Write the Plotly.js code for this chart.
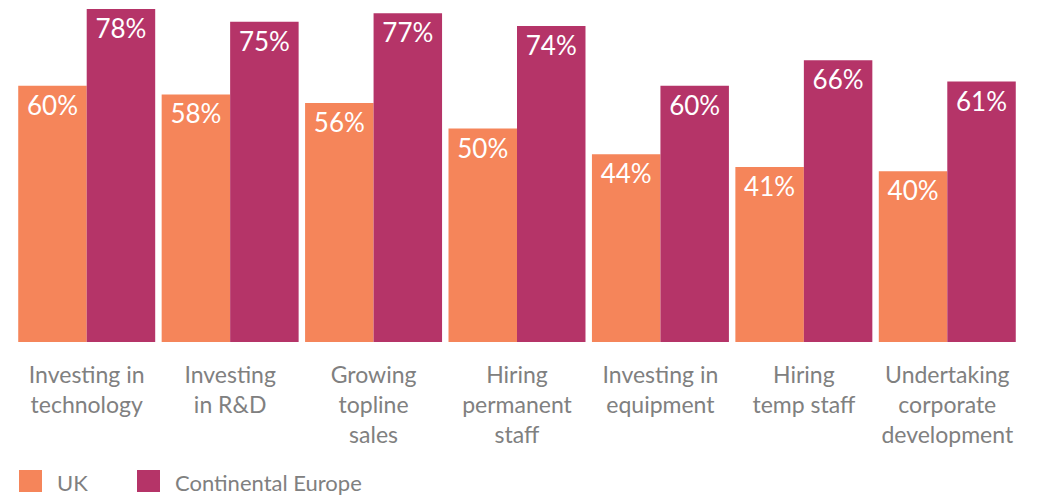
<!DOCTYPE html>
<html>
<head>
<meta charset="utf-8">
<script src="https://cdn.plot.ly/plotly-3.0.1.min.js"></script>
<style>
  html, body { margin: 0; padding: 0; background: #fff; }
  #chart { width: 1042px; height: 496px; }
</style>
</head>
<body>
<div id="chart"></div>
<script>
// categories (line breaks as in the picture)
const categories = [
  "Investing in<br>technology",
  "Investing<br>in R&D",
  "Growing<br>topline<br>sales",
  "Hiring<br>permanent<br>staff",
  "Investing in<br>equipment",
  "Hiring<br>temp staff",
  "Undertaking<br>corporate<br>development"
];
const seriesNames = ["UK", "Continental Europe"];
const ukValues = [60, 58, 56, 50, 44, 41, 40];
const europeValues = [78, 75, 77, 74, 60, 66, 61];

const colors = ["#F5855A", "#B53468"];
const greyText = "#808080";
const fontFam = "Lato, 'Open Sans', sans-serif";

// plot box in pixels
const W = 1042, H = 496;
const mL = 15, mR = 23, mT = 9, mB = 154;
const plotW = W - mL - mR, plotH = H - mT - mB;
function px(x) { return (x - mL) / plotW; }
function py(y) { return (H - mB - y) / plotH; }

function barTrace(name, values, color) {
  return {
    type: "bar",
    name: name,
    x: categories,
    y: values,
    text: values.map(v => v + "%"),
    textposition: "inside",
    insidetextanchor: "end",
    textfont: { color: "#ffffff", size: 26, family: fontFam },
    marker: { color: color },
    hoverinfo: "skip",
    showlegend: false
  };
}

let data = [
  barTrace(seriesNames[0], ukValues, colors[0]),
  barTrace(seriesNames[1], europeValues, colors[1])
];

// hand-made legend, squares bigger than plotly's own
let legendX = [19, 137];
let shapes = [];
let annotations = [];
for (let i = 0; i < seriesNames.length; i++) {
  shapes.push({
    type: "rect", xref: "paper", yref: "paper",
    x0: px(legendX[i]), x1: px(legendX[i] + 23),
    y0: py(492), y1: py(470),
    fillcolor: colors[i], line: { width: 0 }
  });
  annotations.push({
    xref: "paper", yref: "paper",
    x: px(legendX[i] + 36), y: py(482),
    xanchor: "left", yanchor: "middle",
    text: seriesNames[i], showarrow: false,
    font: { size: 22, color: greyText, family: fontFam }
  });
}

let layout = {
  width: W,
  height: H,
  margin: { l: mL, r: mR, t: mT, b: mB },
  paper_bgcolor: "#ffffff",
  plot_bgcolor: "#ffffff",
  barmode: "group",
  bargap: 0.045,
  bargroupgap: 0,
  showlegend: false,
  xaxis: {
    type: "category",
    showgrid: false,
    zeroline: false,
    showline: false,
    ticks: "",
    ticklabelstandoff: 17,
    tickfont: { size: 23, color: greyText, family: fontFam }
  },
  yaxis: {
    range: [0, 78],
    visible: false,
    showgrid: false,
    zeroline: false
  },
  shapes: shapes,
  annotations: annotations
};

Plotly.newPlot("chart", data, layout, { displayModeBar: false, staticPlot: true });
</script>
</body>
</html>
